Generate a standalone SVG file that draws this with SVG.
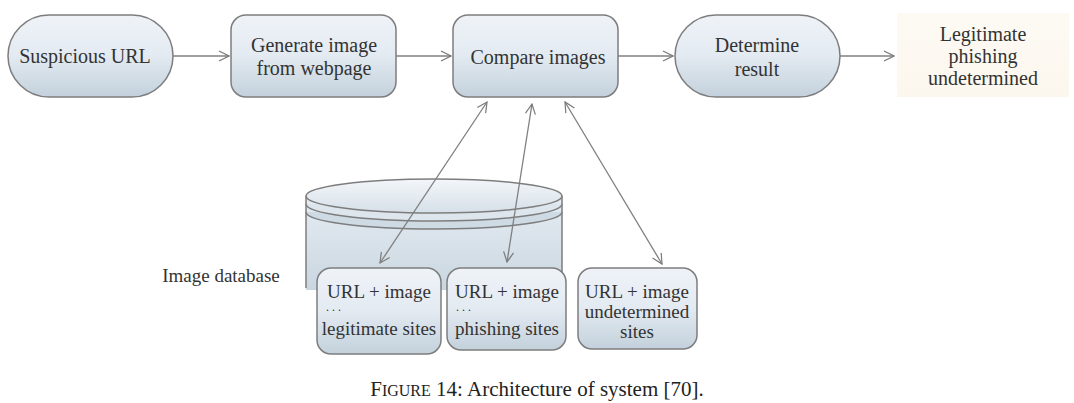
<svg xmlns="http://www.w3.org/2000/svg" width="1074" height="403" viewBox="0 0 1074 403" font-family="Liberation Serif, Times New Roman, serif">
<defs>
<linearGradient id="g" x1="0" y1="0" x2="0" y2="1">
<stop offset="0" stop-color="#eff3f8"/>
<stop offset="0.5" stop-color="#e3eaf1"/>
<stop offset="1" stop-color="#c3d1dc"/>
</linearGradient>
<linearGradient id="gc" x1="0" y1="0" x2="0" y2="1">
<stop offset="0" stop-color="#e6edf3"/>
<stop offset="1" stop-color="#c9d6e0"/>
</linearGradient>
<linearGradient id="gt" x1="0" y1="0" x2="0" y2="1">
<stop offset="0" stop-color="#f3f6f9"/>
<stop offset="1" stop-color="#d6e0e8"/>
</linearGradient>
<linearGradient id="gy" x1="0" y1="0" x2="0" y2="1">
<stop offset="0" stop-color="#fdfaf4"/>
<stop offset="1" stop-color="#fcf7ee"/>
</linearGradient>
<marker id="ah" viewBox="0 0 12 12" refX="11" refY="6" markerWidth="12" markerHeight="12" markerUnits="userSpaceOnUse" orient="auto-start-reverse">
<path d="M1,1 L11,6 L1,11" fill="none" stroke="#7a7a7a" stroke-width="1.2"/>
</marker>
<style>
.n{fill:url(#g);stroke:#7d7d7d;stroke-width:1.5}
.t{font-family:"Liberation Serif","Times New Roman",serif;font-size:19px;fill:#333;text-anchor:middle}
.s{font-size:20px}
.d{text-anchor:start;font-size:12px;letter-spacing:3px}
.c{fill:none;stroke:#808080;stroke-width:1.3}
</style>
</defs>
<rect width="1074" height="403" fill="#fff"/>
<g id="cylinder">
<path d="M306,196 L306,290 L562,290 L562,196 Z" fill="url(#gc)" stroke="none"/>
<path d="M306,196 L306,288 M562,196 L562,282" stroke="#7d7d7d" stroke-width="1.5" fill="none"/>
<path d="M306,212 A128,17 0 0 0 562,212" fill="#cfdbe4" stroke="#7d7d7d" stroke-width="1.5"/>
<path d="M306,204 A128,17 0 0 0 562,204" fill="#dde6ed" stroke="#7d7d7d" stroke-width="1.5"/>
<ellipse cx="434" cy="196" rx="128" ry="17" fill="url(#gt)" stroke="#7d7d7d" stroke-width="1.5"/>
</g>
<g id="n1"><rect class="n" x="8" y="15" width="165" height="82" rx="41"/><text class="t s" x="85" y="63">Suspicious URL</text></g>
<g id="n2"><rect class="n" x="231" y="15" width="165" height="82" rx="15"/><text class="t s" x="314" y="52">Generate image</text><text class="t s" x="314" y="75">from webpage</text></g>
<g id="n3"><rect class="n" x="453" y="15" width="165" height="82" rx="15"/><text class="t s" x="538" y="64">Compare images</text></g>
<g id="n4"><rect class="n" x="675" y="15" width="165" height="82" rx="41"/><text class="t s" x="757" y="52">Determine</text><text class="t s" x="757" y="76">result</text></g>
<g id="n5"><rect x="897" y="13" width="172" height="84" fill="url(#gy)"/><text class="t s" x="983" y="41">Legitimate</text><text class="t s" x="983" y="63">phishing</text><text class="t s" x="983" y="85">undetermined</text></g>
<g id="label"><text class="t" x="221" y="282">Image database</text></g>
<g id="b1"><rect class="n" x="317" y="268" width="124" height="86" rx="14"/><text class="t" x="379" y="298">URL + image</text><text class="t d" x="326" y="311">...</text><text class="t" x="379" y="335">legitimate sites</text></g>
<g id="b2"><rect class="n" x="447" y="268" width="119" height="82" rx="14"/><text class="t" x="507" y="298">URL + image</text><text class="t d" x="456" y="311">...</text><text class="t" x="507" y="335">phishing sites</text></g>
<g id="b3"><rect class="n" x="578" y="268" width="119" height="81" rx="14"/><text class="t" x="637" y="298">URL + image</text><text class="t" x="637" y="318">undetermined</text><text class="t" x="637" y="338">sites</text></g>
<g id="connectors">
<line class="c" x1="173" y1="56" x2="229" y2="56" marker-end="url(#ah)"/>
<line class="c" x1="396" y1="56" x2="451" y2="56" marker-end="url(#ah)"/>
<line class="c" x1="618" y1="56" x2="673" y2="56" marker-end="url(#ah)"/>
<line class="c" x1="840" y1="56" x2="894" y2="56" marker-end="url(#ah)"/>
<line class="c" x1="487" y1="102" x2="380" y2="263" marker-start="url(#ah)" marker-end="url(#ah)"/>
<line class="c" x1="532" y1="104" x2="507" y2="262" marker-start="url(#ah)" marker-end="url(#ah)"/>
<line class="c" x1="565" y1="102" x2="662" y2="264" marker-start="url(#ah)" marker-end="url(#ah)"/>
</g>
<text x="537" y="396" style="font-family:'Liberation Serif','Times New Roman',serif;font-size:21px;fill:#222;text-anchor:middle">F<tspan style="font-size:16px">IGURE</tspan> 14: Architecture of system [70].</text>
</svg>
